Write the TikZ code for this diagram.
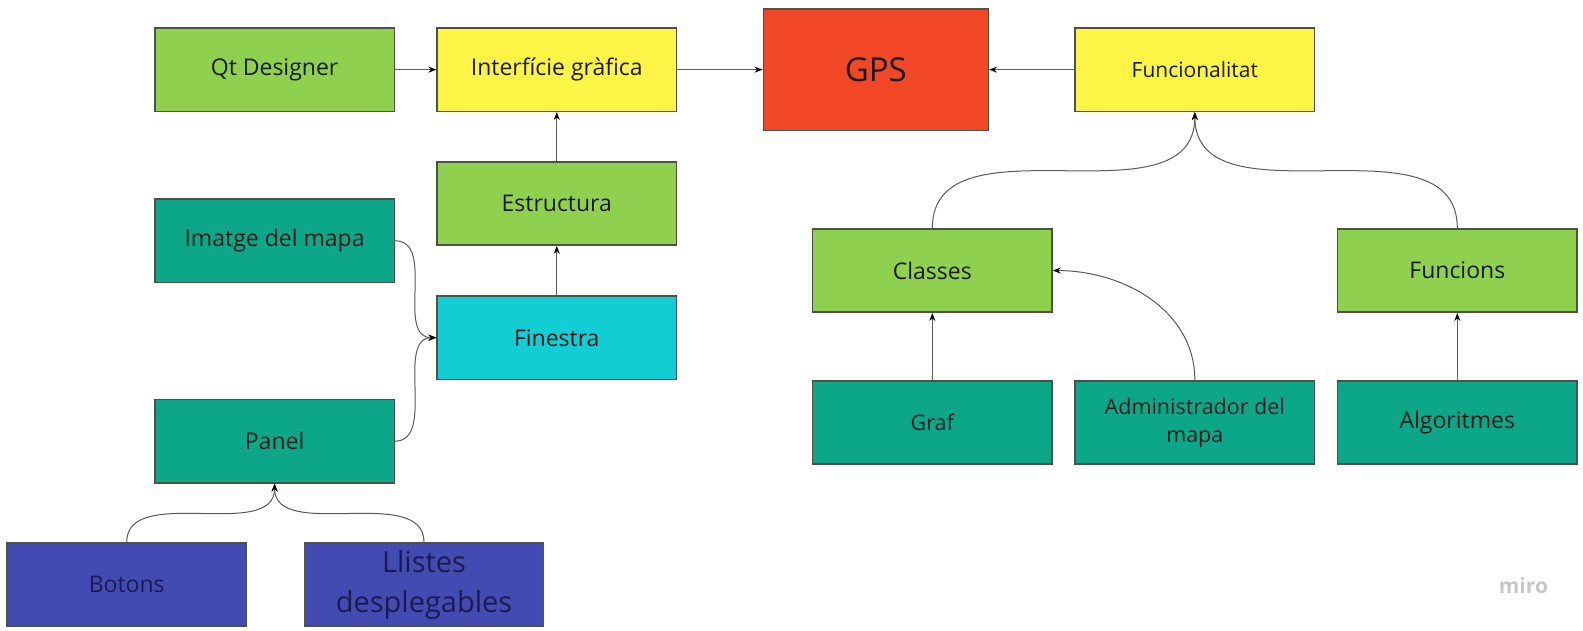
\documentclass[tikz,border=0pt]{standalone}
\usepackage{fontspec}
\setmainfont{Open Sans}
\usetikzlibrary{arrows.meta}
\definecolor{mgreen}{HTML}{8FD14F}
\definecolor{myellow}{HTML}{FEF445}
\definecolor{mred}{HTML}{F24726}
\definecolor{mteal}{HTML}{0CA789}
\definecolor{mcyan}{HTML}{12CDD4}
\definecolor{mblue}{HTML}{414BB2}
\definecolor{mtext}{HTML}{1A1A1A}
\definecolor{mbtext}{HTML}{1A1C50}
\definecolor{mline}{HTML}{5A5A5A}
\definecolor{mborder}{HTML}{4D5245}
\tikzset{
  box/.style={draw=mborder, line width=1.5pt, minimum width=239.3pt, minimum height=83.3pt,
    inner sep=0pt, align=center, text=mtext, font=\fontsize{23}{30}\selectfont},
  smalltxt/.style={font=\fontsize{21.5}{28}\selectfont},
  conn/.style={draw=mline, line width=1pt, -{Stealth[length=8pt,width=6pt,black]}}
}
\begin{document}
\begin{tikzpicture}[x=1.0096pt,y=-1.0096pt]
\useasboundingbox (0,0) rectangle (1568,625);
\fill[white] (0,0) rectangle (1568,625);
% nodes
\node[box, fill=mgreen] (qt) at (272,69) {Qt Designer};
\node[box, fill=myellow] (ifg) at (551.5,69) {Interfície gràfica};
\node[box, fill=mred, minimum width=225pt, minimum height=121.2pt, font=\fontsize{33}{40}\selectfont] (gps) at (867.5,69) {GPS};
\node[box, fill=myellow, font=\fontsize{21}{26}\selectfont] (func) at (1183.5,69) {Funcionalitat};
\node[box, fill=mgreen] (estr) at (551.5,201.5) {Estructura};
\node[box, fill=mteal] (imat) at (272,238.5) {Imatge del mapa};
\node[box, fill=mcyan] (fin) at (551.5,334.5) {Finestra};
\node[box, fill=mteal] (panel) at (272,437) {Panel};
\node[box, fill=mblue, text=mbtext] (botons) at (125.5,579) {Botons};
\node[box, fill=mblue, text=mbtext, font=\fontsize{29}{40}\selectfont] (llistes) at (420,579) {Llistes\\desplegables};
\node[box, fill=mgreen] (classes) at (923.5,268) {Classes};
\node[box, fill=mgreen] (funcions) at (1443.5,268) {Funcions};
\node[box, fill=mteal, smalltxt] (graf) at (923.5,418.5) {Graf};
\node[box, fill=mteal, smalltxt] (admin) at (1183.5,418.5) {Administrador del\\mapa};
\node[box, fill=mteal] (algo) at (1443.5,418.5) {Algoritmes};
\node[text=black!22, font=\fontsize{21}{24}\selectfont\bfseries] (miro) at (1509,580) {miro};
% connectors
\draw[conn] (qt.east) -- (ifg.west);
\draw[conn] (ifg.east) -- (gps.west);
\draw[conn] (func.west) -- (gps.east);
\draw[conn] (estr.north) -- (ifg.south);
\draw[conn] (fin.north) -- (estr.south);
\draw[conn] (imat.east) .. controls (imat.east -| fin.west) and (fin.west -| imat.east) .. (fin.west);
\draw[conn] (panel.east) .. controls (panel.east -| fin.west) and (fin.west -| panel.east) .. (fin.west);
\draw[conn] (botons.north) .. controls (botons.north |- panel.south) and (panel.south |- botons.north) .. (panel.south);
\draw[conn] (llistes.north) .. controls (llistes.north |- panel.south) and (panel.south |- llistes.north) .. (panel.south);
\draw[conn] (classes.north) .. controls (classes.north |- func.south) and (func.south |- classes.north) .. (func.south);
\draw[conn] (funcions.north) .. controls (funcions.north |- func.south) and (func.south |- funcions.north) .. (func.south);
\draw[conn] (graf.north) -- (classes.south);
\draw[conn] (algo.north) -- (funcions.south);
\draw[conn] (admin.north) to[out=90,in=0] (classes.east);
\end{tikzpicture}
\end{document}
